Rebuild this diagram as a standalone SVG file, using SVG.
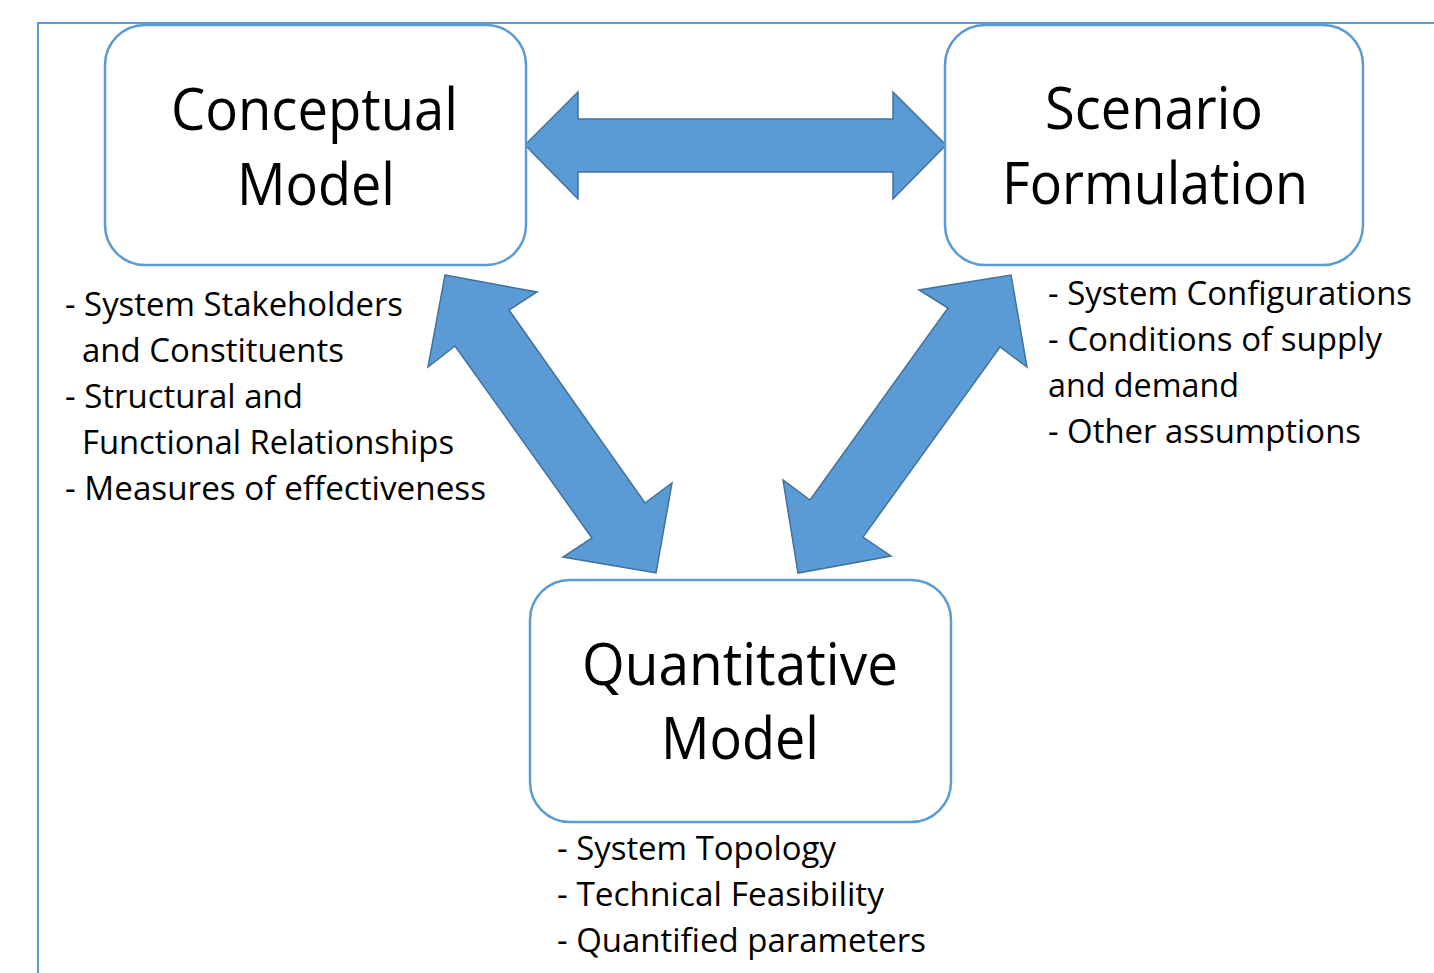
<svg xmlns="http://www.w3.org/2000/svg" width="1434" height="973" viewBox="0 0 1434 973">
  <style>
    .frame { fill: none; stroke: #5B9BD5; stroke-width: 2; }
    .box { fill: #FFFFFF; stroke: #5B9BD5; stroke-width: 2.5; }
    .arrow { fill: #5B9BD5; stroke: #41719C; stroke-width: 1.5; stroke-linejoin: miter; }
    .title { font-family: "Open Sans", "Liberation Sans", sans-serif; font-size: 58px; fill: #000000; }
    .note { font-family: "Open Sans", "Liberation Sans", sans-serif; font-size: 33px; fill: #000000; }
  </style>

  <rect x="0" y="0" width="1434" height="973" fill="#FFFFFF"/>

  <!-- enclosing frame (top and left edges) -->
  <path class="frame" d="M38,973 L38,23 L1434,23"/>

  <!-- double-headed block arrows between the three stages -->
  <g id="connectors">
    <polygon class="arrow" points="525,145 578,92 578,119 893,119 893,92 946,145 893,199 893,172 578,172 578,199"/>
    <polygon class="arrow" points="445,275 537,292 509,310 645,503 672,483 656,573 563,557 592,538 455,346 428,367"/>
    <polygon class="arrow" points="1011,275 1027,367 1000,347 863,537 891,556 798,573 783,480 810,500 948,308 919,290"/>
  </g>

  <g id="conceptual-model">
    <rect class="box" x="105" y="25" width="421" height="240" rx="40" ry="40"/>
    <text class="title" x="171" y="130" textLength="287" lengthAdjust="spacingAndGlyphs">Conceptual</text>
    <text class="title" x="237" y="205" textLength="158" lengthAdjust="spacingAndGlyphs">Model</text>
  </g>

  <g id="scenario-formulation">
    <rect class="box" x="945" y="25" width="418" height="240" rx="40" ry="40"/>
    <text class="title" x="1045" y="129" textLength="218" lengthAdjust="spacingAndGlyphs">Scenario</text>
    <text class="title" x="1002" y="204" textLength="306" lengthAdjust="spacingAndGlyphs">Formulation</text>
  </g>

  <g id="quantitative-model">
    <rect class="box" x="530" y="580" width="421" height="242" rx="40" ry="40"/>
    <text class="title" x="582" y="685" textLength="316" lengthAdjust="spacingAndGlyphs">Quantitative</text>
    <text class="title" x="661" y="759" textLength="158" lengthAdjust="spacingAndGlyphs">Model</text>
  </g>

  <!-- descriptive notes -->
  <g id="conceptual-notes">
    <text class="note" x="65" y="316" textLength="338" lengthAdjust="spacingAndGlyphs">- System Stakeholders</text>
    <text class="note" x="82" y="362" textLength="262" lengthAdjust="spacingAndGlyphs">and Constituents</text>
    <text class="note" x="65" y="408" textLength="238" lengthAdjust="spacingAndGlyphs">- Structural and</text>
    <text class="note" x="82" y="454" textLength="372" lengthAdjust="spacingAndGlyphs">Functional Relationships</text>
    <text class="note" x="65" y="500" textLength="421" lengthAdjust="spacingAndGlyphs">- Measures of effectiveness</text>
  </g>

  <g id="scenario-notes">
    <text class="note" x="1048" y="305" textLength="364" lengthAdjust="spacingAndGlyphs">- System Configurations</text>
    <text class="note" x="1048" y="351" textLength="334" lengthAdjust="spacingAndGlyphs">- Conditions of supply</text>
    <text class="note" x="1048" y="397" textLength="191" lengthAdjust="spacingAndGlyphs">and demand</text>
    <text class="note" x="1048" y="443" textLength="313" lengthAdjust="spacingAndGlyphs">- Other assumptions</text>
  </g>

  <g id="quantitative-notes">
    <text class="note" x="557" y="860" textLength="279" lengthAdjust="spacingAndGlyphs">- System Topology</text>
    <text class="note" x="557" y="906" textLength="327" lengthAdjust="spacingAndGlyphs">- Technical Feasibility</text>
    <text class="note" x="557" y="952" textLength="369" lengthAdjust="spacingAndGlyphs">- Quantified parameters</text>
  </g>
</svg>
